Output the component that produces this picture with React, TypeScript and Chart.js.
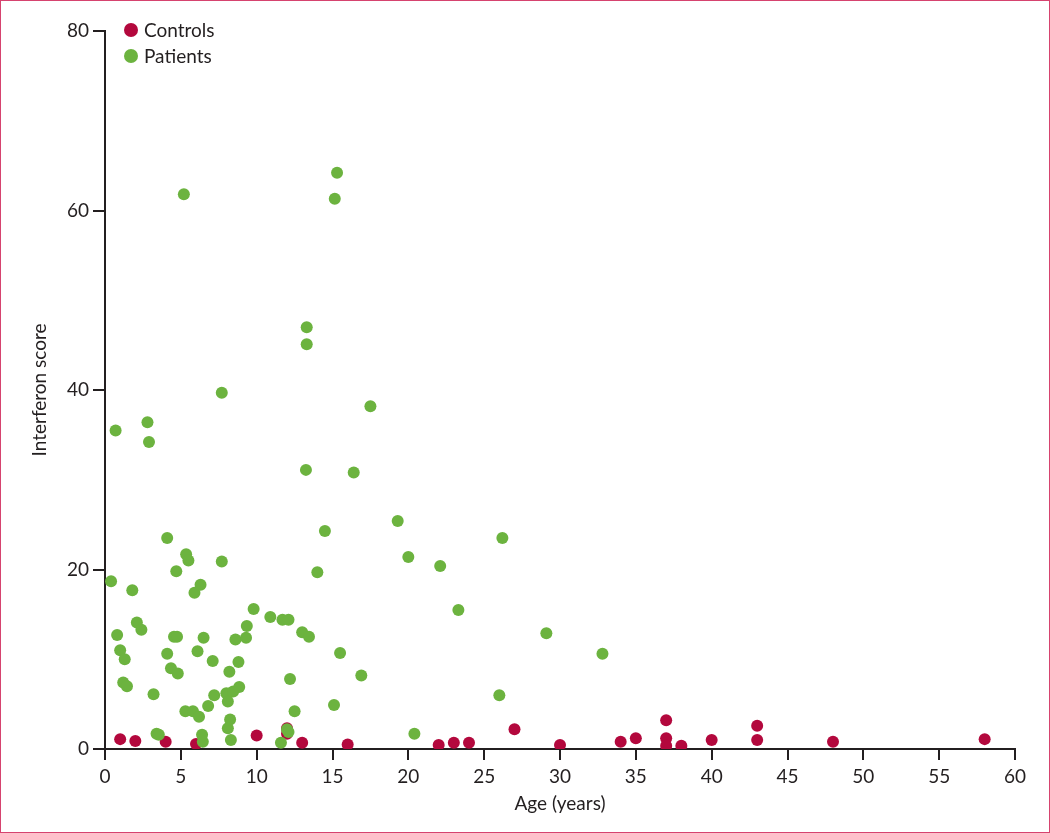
import React, { useEffect, useRef } from "react";
import { Chart, registerables } from "chart.js";

Chart.register(...registerables);

// Patients (green): age in years, interferon score
const patientAge = [
  0.4, 0.7, 0.8, 1.0, 1.2, 1.3, 1.45, 1.8, 2.1, 2.4, 2.8, 2.9, 3.2, 3.4, 3.55,
  4.1, 4.1, 4.35, 4.55, 4.7, 4.75, 4.8, 5.2, 5.35, 5.3, 5.5, 5.8, 5.9, 6.1, 6.2,
  6.3, 6.4, 6.45, 6.5, 6.8, 7.1, 7.2, 7.7, 7.7, 8.0, 8.1, 8.2, 8.1, 8.25, 8.3,
  8.45, 8.6, 8.85, 8.8, 9.3, 9.35, 9.8, 10.9, 11.7, 11.6, 12.1, 12.1, 12.0, 12.2,
  12.5, 13.0, 13.3, 13.3, 13.25, 13.45, 14.0, 14.5, 15.1, 15.15, 15.3, 15.5, 16.4,
  16.9, 17.5, 19.3, 20.0, 20.4, 22.1, 23.3, 26.0, 26.2, 29.1, 32.8,
];
const patientScore = [
  18.7, 35.5, 12.7, 11.0, 7.4, 10.0, 7.0, 17.7, 14.1, 13.3, 36.4, 34.2, 6.1, 1.7, 1.6,
  23.5, 10.6, 9.0, 12.5, 19.8, 12.5, 8.4, 61.8, 21.7, 4.2, 21.0, 4.2, 17.4, 10.9, 3.6,
  18.3, 1.6, 0.8, 12.4, 4.8, 9.8, 6.0, 39.7, 20.9, 6.2, 2.3, 8.6, 5.3, 3.3, 1.0,
  6.4, 12.2, 6.9, 9.7, 12.4, 13.7, 15.6, 14.7, 14.4, 0.7, 14.4, 1.9, 2.2, 7.8,
  4.2, 13.0, 47.0, 45.1, 31.1, 12.5, 19.7, 24.3, 4.9, 61.3, 64.2, 10.7, 30.8,
  8.2, 38.2, 25.4, 21.4, 1.7, 20.4, 15.5, 6.0, 23.5, 12.9, 10.6,
];

// Controls (red)
const controlAge = [
  1, 2, 4, 6, 10, 12, 12, 13, 16, 22, 23, 24, 27, 30, 34, 35, 37, 37, 37, 38, 40,
  43, 43, 48, 58,
];
const controlScore = [
  1.1, 0.9, 0.8, 0.55, 1.5, 2.3, 1.7, 0.7, 0.5, 0.45, 0.7, 0.7, 2.2, 0.45, 0.8, 1.2,
  3.2, 1.2, 0.35, 0.35, 1.0, 2.6, 1.0, 0.8, 1.1,
];

const xTicks = [0, 5, 10, 15, 20, 25, 30, 35, 40, 45, 50, 55, 60];
const yTicks = [0, 20, 40, 60, 80];

const seriesNames = ["Controls", "Patients"];
const RED = "#b3083d";
const GREEN = "#6cb33f";
const INK = "#231f20";
const FONT = "Lato";

const legendPlugin = {
  id: "insideLegend",
  afterDraw(chart: any) {
    const ctx = chart.ctx;
    const items = [
      { label: seriesNames[0], color: RED },
      { label: seriesNames[1], color: GREEN },
    ];
    ctx.save();
    ctx.font = `19px ${FONT}`;
    ctx.textBaseline = "middle";
    ctx.textAlign = "left";
    items.forEach((it, i) => {
      const cy = 29 + i * 26;
      ctx.beginPath();
      ctx.arc(130, cy, 7, 0, Math.PI * 2);
      ctx.fillStyle = it.color;
      ctx.fill();
      ctx.fillStyle = INK;
      ctx.fillText(it.label, 143, cy + 1);
    });
    ctx.restore();
  },
};

export default function App() {
  const ref = useRef<HTMLCanvasElement | null>(null);

  useEffect(() => {
    if (!ref.current) return;
    const controls = controlAge.map((x, i) => ({ x, y: controlScore[i] }));
    const patients = patientAge.map((x, i) => ({ x, y: patientScore[i] }));
    const chart = new Chart(ref.current, {
      type: "scatter",
      data: {
        datasets: [
          {
            label: seriesNames[0],
            data: controls,
            backgroundColor: RED,
            borderWidth: 0,
            pointRadius: 6,
            order: 1,
          },
          {
            label: seriesNames[1],
            data: patients,
            backgroundColor: GREEN,
            borderWidth: 0,
            pointRadius: 6,
            order: 0,
          },
        ],
      },
      options: {
        animation: false,
        responsive: false,
        maintainAspectRatio: false,
        layout: { padding: { left: 0, right: 34, top: 30, bottom: 0 } },
        plugins: { legend: { display: false }, tooltip: { enabled: false } },
        scales: {
          x: {
            type: "linear",
            min: 0,
            max: 60,
            afterBuildTicks: (s: any) => {
              s.ticks = xTicks.map((v) => ({ value: v }));
            },
            afterFit: (s: any) => {
              s.height = 83;
            },
            ticks: { color: INK, font: { family: FONT, size: 19 }, padding: 5 },
            grid: {
              drawOnChartArea: false,
              drawTicks: true,
              tickLength: 11,
              color: INK,
              lineWidth: 2,
            },
            border: { display: true, color: INK, width: 2 },
            title: {
              display: true,
              text: "Age (years)",
              color: INK,
              font: { family: FONT, size: 19 },
              padding: { top: 0, bottom: 17 },
            },
          },
          y: {
            type: "linear",
            min: 0,
            max: 80,
            afterBuildTicks: (s: any) => {
              s.ticks = yTicks.map((v) => ({ value: v }));
            },
            afterFit: (s: any) => {
              s.width = 104;
            },
            ticks: { color: INK, font: { family: FONT, size: 19 }, padding: 4 },
            grid: {
              drawOnChartArea: false,
              drawTicks: true,
              tickLength: 12,
              color: INK,
              lineWidth: 2,
            },
            border: { display: true, color: INK, width: 2 },
            title: {
              display: true,
              text: "Interferon score",
              color: INK,
              font: { family: FONT, size: 19 },
              padding: { top: 27, bottom: 0 },
            },
          },
        },
      },
      plugins: [legendPlugin],
    });
    return () => chart.destroy();
  }, []);

  return (
    <div
      style={{
        position: "absolute",
        left: 0,
        top: 0,
        width: 1050,
        height: 833,
        boxSizing: "border-box",
        border: "1px solid #d6436f",
        background: "#fff",
      }}
    >
      <canvas ref={ref} width={1048} height={831} style={{ display: "block" }} />
    </div>
  );
}
